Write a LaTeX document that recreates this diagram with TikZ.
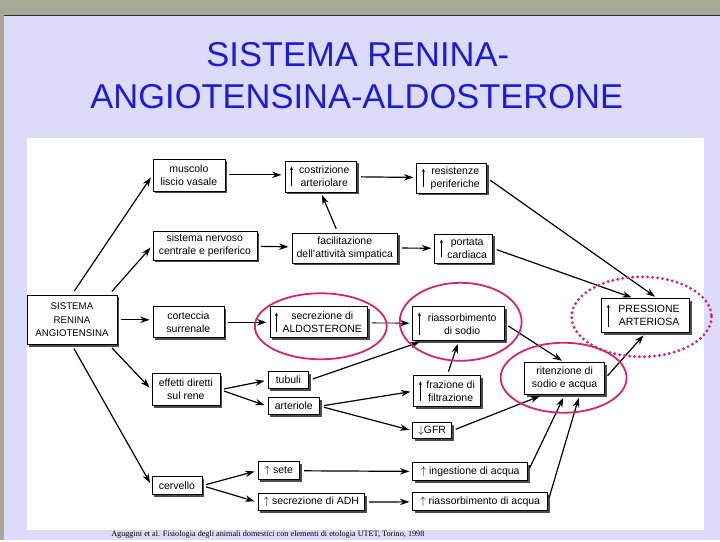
\documentclass[tikz,border=0pt]{standalone}
\usepackage{fontspec}
\setmainfont{Liberation Sans}
\newfontfamily\citefont{Liberation Serif}
\usetikzlibrary{arrows.meta,shadows}
\definecolor{lavbg}{RGB}{220,220,250}
\definecolor{topgray}{RGB}{168,168,150}
\definecolor{ttlblue}{RGB}{28,28,212}
\definecolor{hlpink}{RGB}{214,36,110}
% two lines pushed right, leaving room for the small arrow
\newcommand{\upl}[2]{\hspace*{7pt}#1\\\hspace*{7pt}#2}

\begin{document}
\begin{tikzpicture}[x=1pt,y=-1pt,line width=1pt,>=Stealth,
  blk/.style 2 args={draw,fill=white,line width=0.6pt,align=center,inner sep=1pt,
    minimum width=#1,minimum height=#2,font=\fontsize{10.5}{13}\selectfont,
    drop shadow={shadow xshift=2.5pt,shadow yshift=-2.5pt,fill=black!70,opacity=1}},
  arr/.style={->,line width=1.2pt,>={Stealth[length=9.5pt,width=6.5pt]},
    shorten <=4pt,shorten >=3pt},
  upa/.style={->,line width=0.7pt,>={Stealth[length=3.5pt,width=3pt]}},
  hl/.style={draw=hlpink,line width=1.8pt},
  hldot/.style={draw=hlpink,line width=3.2pt,line cap=round,dash pattern=on 0pt off 5pt}]
% ================= slide background =================
\fill[lavbg] (0,0) rectangle (720,540);
\fill[topgray] (0,0) rectangle (720,15);
\fill[topgray] (0,0) rectangle (4.5,540);
\draw[black!80] (4.5,15.5) -- (720,15.5);
\fill[white] (27,138) rectangle (704,530);
% title and source
\node[font=\fontsize{34.5}{40}\selectfont,text=ttlblue] (ttl1) at (358,55) {SISTEMA RENINA-};
\node[font=\fontsize{34.5}{40}\selectfont,text=ttlblue] (ttl2) at (357,97) {ANGIOTENSINA-ALDOSTERONE};
\node[font=\citefont\fontsize{8.2}{9}\selectfont] (src) at (268,535)
  {Aguggini et al. Fisiologia degli animali domestici con elementi di etologia UTET, Torino, 1998};
% ================= first and second column =================
\node[blk={90pt}{50pt},font=\fontsize{9.7}{13.5}\selectfont] (sra) at (72,320) {SISTEMA\\RENINA\\ANGIOTENSINA};
\node[blk={72pt}{32pt}] (musc) at (189,175) {muscolo\\liscio vasale};
\node[blk={104pt}{29pt}] (snc) at (205,245.5) {sistema nervoso\\centrale e periferico};
\node[blk={71pt}{31pt}] (cort) at (188.5,322.5) {corteccia\\surrenale};
\node[blk={68pt}{32pt}] (eff) at (186,390) {effetti diretti\\sul rene};
\node[blk={50pt}{18pt}] (cerv) at (177,486) {cervello};
% ================= third column =================
\node[blk={72pt}{31pt}] (costr) at (321,176.5) {\upl{costrizione}{arteriolare}};
\node[blk={106pt}{30pt}] (facil) at (345,248) {facilitazione\\dell'attività simpatica};
\node[blk={98pt}{31pt}] (secr) at (319,322.5) {\upl{secrezione di}{ALDOSTERONE}};
\node[blk={41pt}{17pt}] (tub) at (288.5,380.5) {tubuli};
\node[blk={52pt}{17pt}] (art) at (294,406.5) {arteriole};
\node[blk={42pt}{18pt}] (sete) at (279,471) {$\uparrow$ sete};
\node[blk={107pt}{17pt}] (adh) at (311.5,502.5) {$\uparrow$ secrezione di ADH};
% ================= fourth column =================
\node[blk={70pt}{30pt}] (resist) at (452,178) {\upl{resistenze}{periferiche}};
\node[blk={58pt}{29pt}] (port) at (464,248.5) {\upl{portata}{cardiaca}};
\node[blk={92pt}{34pt}] (riass) at (459,324) {\upl{riassorbimento}{di sodio}};
\node[blk={67pt}{31pt}] (fraz) at (447.5,391.5) {\upl{frazione di}{filtrazione}};
\node[blk={39pt}{16pt}] (gfr) at (432.5,431) {$\downarrow$GFR};
\node[blk={115pt}{18pt}] (ing) at (470.5,472) {$\uparrow$ ingestione di acqua};
\node[blk={135pt}{18pt}] (riacq) at (480.5,502) {$\uparrow$ riassorbimento di acqua};
% ================= right side =================
\node[blk={80pt}{32pt}] (rit) at (565,379) {ritenzione di\\sodio e acqua};
\node[blk={88pt}{34pt}] (press) at (646,316) {\upl{PRESSIONE}{ARTERIOSA}};
% small "increase" arrows inside the boxes
\foreach \n in {costr,resist,port,secr,riass,fraz,press}
  \draw[upa] ([shift={(7,-6)}]\n.south west) -- ([shift={(7,6)}]\n.north west);
% ================= connectors =================
\draw[arr] (sra.north) -- (musc.west);
\draw[arr] ([xshift=-8pt]sra.north east) -- (snc.west);
\draw[arr] (sra.east) -- (sra.east -| cort.west);
\draw[arr] ([xshift=-8pt]sra.south east) -- (eff.west);
\draw[arr] (sra.south) -- (cerv.west);
\draw[arr] (musc.east) -- (musc.east -| costr.west);
\draw[arr] (costr) -- (resist);
\draw[arr] (snc) -- (facil);
\draw[arr] (facil) -- (port);
\draw[arr] ([xshift=-7pt]facil.north) -- (costr.south);
\draw[arr] (resist.east) -- ([xshift=12pt]press.north);
\draw[arr] (port.east) -- ([xshift=-11pt]press.north);
\draw[arr] (cort) -- (secr);
\draw[arr,line width=0.8pt] (secr) -- (riass);
\draw[arr] (eff.east) -- (tub.west);
\draw[arr] (eff.east) -- (art.west);
\draw[arr] (tub.east) -- ([xshift=10pt]riass.south west);
\draw[arr] (fraz.north) -- (riass.south);
\draw[arr] (art.east) -- (fraz.west);
\draw[arr] (art.east) -- (gfr.west);
\draw[arr] (riass.east) -- (rit.north);
\draw[arr] (rit.east) -- (press.south);
\draw[arr] (gfr.east) -- ([xshift=-22pt]rit.south);
\draw[arr] (ing.east) -- (rit.south);
\draw[arr] (riacq.east) -- ([xshift=15pt]rit.south);
\draw[arr] (cerv.east) -- (sete.west);
\draw[arr] (cerv.east) -- (adh.west);
\draw[arr] (sete) -- (ing);
\draw[arr] (adh) -- (riacq);
% ================= highlight rings =================
\draw[hl] ([shift={(2,4)}]secr.center) ellipse [x radius=66, y radius=33];
\draw[hl] ([shift={(2,-2)}]riass.center) ellipse [x radius=61, y radius=39];
\draw[hl] ([shift={(-1,-1)}]rit.center) ellipse [x radius=63, y radius=35];
\draw[hldot] ([shift={(-4,1)}]press.center) ellipse [x radius=70, y radius=40];
\end{tikzpicture}
\end{document}
